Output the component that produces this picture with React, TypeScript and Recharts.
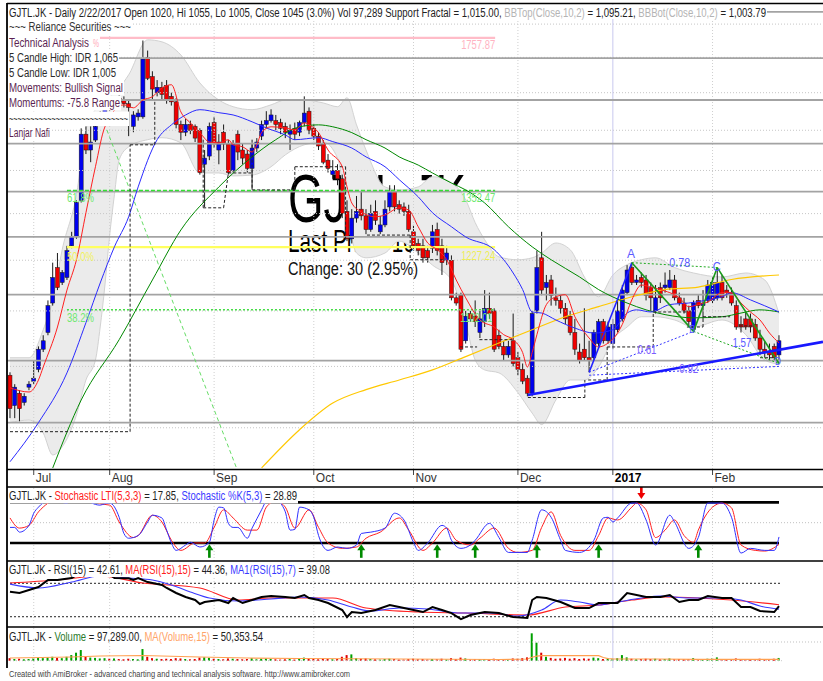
import React from 'react';
import { ComposedChart, Bar, Line, Area, XAxis, YAxis, ReferenceLine, Scatter } from 'recharts';

const FONT = '"Liberation Sans", Arial, sans-serif';

// ---- categories / ticks ----
const monthLabels = ['Jul', 'Aug', 'Sep', 'Oct', 'Nov', 'Dec', '2017', 'Feb'];
const monthStarts = [5, 21, 43, 64, 85, 107, 127, 148];

// ---- daily candles [open, high, low, close] ----
const ohlc = [
  [985, 990, 915, 930], [935, 970, 915, 965], [955, 960, 910, 930], [940, 955, 935, 950], [965, 975, 960, 970],
  [975, 1010, 970, 980], [995, 1035, 990, 1030], [1030, 1055, 1025, 1045], [1060, 1120, 1055, 1110], [1115, 1195, 1110, 1165],
  [1185, 1215, 1140, 1145], [1155, 1180, 1150, 1175], [1165, 1230, 1160, 1220], [1230, 1260, 1225, 1250], [1250, 1330, 1245, 1325],
  [1330, 1505, 1325, 1490], [1490, 1510, 1440, 1450], [1450, 1510, 1420, 1470], [1475, 1515, 1470, 1510], [1520, 1550, 1515, 1545],
  [1545, 1575, 1540, 1570], [1570, 1590, 1550, 1560], [1560, 1590, 1555, 1585], [1585, 1600, 1565, 1575], [1580, 1590, 1560, 1570],
  [1570, 1580, 1485, 1560], [1510, 1550, 1495, 1540], [1535, 1555, 1525, 1545], [1535, 1750, 1530, 1695], [1700, 1720, 1635, 1640],
  [1645, 1660, 1580, 1610], [1600, 1635, 1590, 1615], [1615, 1630, 1580, 1595], [1620, 1635, 1570, 1580], [1590, 1600, 1565, 1575],
  [1575, 1585, 1505, 1515], [1515, 1525, 1475, 1495], [1495, 1530, 1485, 1515], [1515, 1525, 1490, 1500], [1510, 1515, 1470, 1480],
  [1500, 1505, 1390, 1395], [1415, 1450, 1315, 1430], [1435, 1520, 1425, 1510], [1520, 1535, 1455, 1465], [1450, 1490, 1415, 1470],
  [1495, 1515, 1450, 1465], [1465, 1475, 1390, 1395], [1400, 1475, 1395, 1465], [1490, 1500, 1425, 1445], [1450, 1465, 1415, 1430],
  [1440, 1450, 1395, 1405], [1405, 1465, 1355, 1455], [1455, 1480, 1445, 1470], [1485, 1525, 1475, 1515], [1515, 1550, 1505, 1525],
  [1525, 1555, 1520, 1540], [1525, 1540, 1500, 1515], [1520, 1530, 1490, 1505], [1510, 1520, 1480, 1495], [1490, 1515, 1450, 1500],
  [1505, 1520, 1475, 1490], [1495, 1525, 1485, 1520], [1520, 1590, 1510, 1545], [1550, 1560, 1490, 1500], [1505, 1515, 1475, 1485],
  [1485, 1495, 1450, 1460], [1465, 1475, 1415, 1420], [1425, 1440, 1395, 1405], [1390, 1425, 1380, 1400], [1400, 1415, 1365, 1380],
  [1380, 1390, 1290, 1300], [1305, 1330, 1240, 1245], [1245, 1310, 1235, 1290], [1290, 1340, 1280, 1305], [1310, 1350, 1285, 1295],
  [1295, 1310, 1255, 1265], [1265, 1320, 1260, 1300], [1305, 1330, 1275, 1285], [1260, 1295, 1255, 1275], [1275, 1330, 1270, 1310],
  [1315, 1365, 1305, 1350], [1350, 1365, 1305, 1315], [1320, 1330, 1300, 1310], [1315, 1325, 1295, 1305], [1305, 1320, 1260, 1265],
  [1260, 1275, 1220, 1230], [1235, 1245, 1210, 1220], [1230, 1245, 1195, 1205], [1220, 1230, 1195, 1205], [1225, 1275, 1215, 1260],
  [1265, 1280, 1210, 1220], [1230, 1245, 1170, 1195], [1200, 1230, 1190, 1215], [1200, 1210, 1120, 1125], [1125, 1135, 1110, 1115],
  [1130, 1135, 1025, 1030], [1045, 1100, 1040, 1090], [1095, 1100, 1080, 1085], [1090, 1120, 1070, 1080], [1060, 1100, 1050, 1085],
  [1080, 1140, 1070, 1105], [1105, 1135, 1085, 1095], [1100, 1105, 1025, 1030], [1055, 1065, 1030, 1035], [1035, 1045, 1010, 1020],
  [1020, 1045, 1015, 1035], [1045, 1095, 1000, 1005], [1015, 1025, 985, 995], [995, 1005, 970, 975], [980, 985, 950, 955],
  [955, 1100, 950, 1095], [1100, 1220, 1095, 1185], [1205, 1260, 1130, 1140], [1145, 1170, 1120, 1155], [1160, 1170, 1110, 1130],
  [1125, 1145, 1110, 1120], [1120, 1130, 1095, 1105], [1105, 1115, 1075, 1085], [1090, 1100, 1055, 1060], [1060, 1085, 1020, 1030],
  [1025, 1040, 1005, 1010], [1030, 1105, 1010, 1015], [1015, 1045, 990, 1010], [1015, 1065, 1010, 1060], [1040, 1085, 1035, 1080],
  [1080, 1085, 1040, 1045], [1045, 1080, 1040, 1070], [1040, 1085, 1030, 1075], [1065, 1120, 1060, 1100], [1085, 1150, 1080, 1140],
  [1135, 1190, 1130, 1180], [1185, 1195, 1150, 1155], [1155, 1170, 1150, 1160], [1165, 1175, 1145, 1155], [1160, 1170, 1120, 1130],
  [1145, 1155, 1100, 1125], [1100, 1150, 1095, 1125], [1145, 1155, 1115, 1125], [1145, 1175, 1135, 1150], [1145, 1180, 1140, 1160],
  [1160, 1170, 1120, 1125], [1125, 1135, 1110, 1115], [1115, 1125, 1095, 1100], [1100, 1110, 1070, 1080], [1065, 1120, 1060, 1115],
  [1120, 1130, 1105, 1110], [1110, 1140, 1085, 1115], [1120, 1160, 1115, 1150], [1120, 1165, 1115, 1155], [1125, 1185, 1120, 1155],
  [1155, 1170, 1120, 1125], [1140, 1150, 1125, 1135], [1135, 1145, 1110, 1115], [1110, 1120, 1065, 1070], [1075, 1090, 1060, 1070],
  [1085, 1100, 1065, 1070], [1085, 1095, 1060, 1070], [1075, 1085, 1045, 1050], [1050, 1065, 1020, 1030], [1030, 1045, 1015, 1025],
  [1025, 1040, 1010, 1020], [1035, 1040, 1010, 1015], [1020, 1055, 1005, 1045],
];

// ---- volume (thousands of shares) ----
const volumeK = [
  90, 60, 70, 50, 60, 80, 110, 90, 120, 140,
  100, 90, 140, 200, 285, 380, 150, 110, 100, 80,
  90, 70, 80, 60, 50, 70, 60, 50, 415, 140,
  90, 70, 60, 70, 60, 90, 80, 60, 50, 60,
  110, 120, 100, 70, 60, 50, 80, 70, 60, 50,
  60, 90, 50, 70, 80, 60, 50, 40, 50, 60,
  40, 70, 110, 80, 60, 50, 70, 60, 50, 60,
  140, 200, 225, 90, 70, 80, 60, 50, 40, 60,
  70, 60, 40, 40, 60, 70, 50, 60, 40, 60,
  50, 70, 40, 90, 60, 110, 80, 40, 50, 50,
  60, 40, 70, 40, 50, 40, 80, 70, 90, 118,
  975, 641, 285, 140, 100, 70, 80, 100, 70, 90,
  60, 80, 70, 110, 90, 60, 80, 70, 90, 200,
  118, 70, 50, 60, 70, 60, 70, 50, 60, 80,
  50, 60, 50, 60, 90, 50, 60, 70, 80, 118,
  60, 50, 60, 80, 50, 60, 50, 60, 70, 50,
  60, 70, 97.289,
];

// ---- price overlays [bar, price] ----
const maRed = [[0,964],[4,957],[6,977],[7,999],[10,1070],[12,1140],[14,1201],[16,1302],[18,1409],[20,1509],[24,1567],[26,1559],[28,1580],[30,1589],[32,1613],[34,1622],[36,1548],[38,1519],[40,1494],[42,1470],[44,1468],[46,1476],[47,1463],[49,1458],[51,1445],[52,1463],[53,1494],[55,1509],[58,1506],[60,1501],[62,1519],[63,1514],[65,1494],[67,1450],[70,1409],[71,1361],[72,1324],[74,1304],[77,1293],[79,1297],[82,1313],[84,1308],[86,1271],[88,1236],[90,1222],[92,1201],[94,1160],[96,1125],[99,1083],[102,1070],[104,1056],[106,1047],[108,1024],[109,999],[110,1024],[111,1056],[113,1112],[115,1127],[117,1131],[119,1089],[122,1050],[124,1034],[126,1041],[128,1059],[129,1075],[131,1121],[133,1150],[135,1146],[137,1141],[141,1125],[143,1108],[145,1112],[147,1117],[150,1135],[152,1135],[154,1115],[156,1098],[158,1083],[160,1059],[162,1041]];
const maBlue = [[0,849],[6,908],[12,989],[16,1078],[19,1154],[22,1228],[25,1293],[27,1361],[31,1476],[34,1514],[37,1540],[40,1554],[44,1546],[47,1540],[51,1522],[54,1506],[58,1488],[60,1476],[65,1481],[68,1471],[72,1455],[75,1433],[79,1409],[82,1378],[86,1338],[89,1302],[93,1271],[96,1249],[102,1222],[106,1174],[108,1141],[110,1098],[112,1096],[115,1083],[119,1068],[123,1059],[127,1065],[130,1096],[132,1102],[135,1098],[139,1112],[143,1115],[147,1121],[150,1127],[152,1135],[156,1121],[162,1098]];
const maGreen = [[9,840],[15,944],[23,1047],[30,1160],[36,1264],[44,1361],[51,1433],[56,1476],[61,1509],[65,1514],[68,1509],[72,1494],[75,1476],[79,1455],[82,1433],[86,1413],[89,1394],[93,1370],[96,1354],[100,1324],[105,1271],[110,1228],[114,1201],[120,1166],[124,1141],[130,1115],[134,1102],[138,1093],[144,1087],[150,1089],[154,1096],[158,1102],[162,1098]];
const maYellow = [[53,840],[61,897],[68,939],[75,961],[82,977],[89,994],[96,1017],[103,1041],[110,1065],[117,1089],[124,1108],[131,1127],[138,1141],[145,1146],[152,1161],[162,1170]];
// Bollinger band [bar, bottom, top]
const bbands = [[0,908,1015],[4,912,1015],[7,892,1065],[9,859,1121],[11,871,1222],[14,920,1343],[16,977,1501],[18,1011,1554],[19,1070,1567],[20,1150,1580],[21,1253,1589],[22,1343,1599],[23,1426,1613],[25,1458,1650],[29,1476,1752],[32,1481,1746],[36,1468,1707],[40,1394,1627],[44,1394,1580],[47,1387,1562],[51,1389,1554],[55,1409,1567],[58,1438,1580],[62,1463,1580],[66,1470,1572],[69,1430,1562],[71,1300,1586],[73,1215,1514],[75,1205,1450],[79,1215,1361],[82,1240,1354],[86,1215,1361],[89,1190,1385],[93,1160,1371],[96,1078,1331],[98,1011,1280],[100,994,1243],[103,989,1207],[107,956,1201],[110,923,1205],[112,905,1215],[115,944,1236],[118,977,1222],[121,977,1166],[124,999,1127],[127,1047,1170],[130,1070,1191],[133,1089,1201],[136,1089,1205],[140,1083,1185],[144,1070,1174],[150,1083,1166],[155,1056,1174],[159,1011,1160],[162,1004,1095]];

// horizontal levels (price)
const gridPrices = [900, 1000, 1100, 1200, 1300, 1400, 1500, 1600, 1700, 1800];
const levelPrices = [1838, 1698, 1580, 1466, 1350, 1249, 1131, 1010, 908];

// fibonacci [fromBar, toBar, price]
const fibHigh = [12, 102.2, 1757.87];
const fib618 = [12, 102.2, 1352.47];
const fib500 = [12, 102.2, 1227.24];
const fib382 = [12, 102.2, 1102.01];
const fibFan = [20.4, 1501, 47.8, 838.5];

// fractal boxes [bar1, price1, bar2, price2]
const fractalSegs = [
  [0,894,25.3,894],[25.3,894,25.3,1463],[25.3,1463,30.5,1463],[30.5,1463,30.5,1580],
  [40.7,1476,40.7,1313],[40.7,1313,45,1313],[45,1313,46,1394],[46,1394,50.8,1394],
  [51,1476,51,1354],[51,1354,60,1354],[60,1354,60,1409],[60,1409,70.7,1409],[70.7,1409,70.7,1243],
  [75.2,1253,84.3,1253],[84.3,1253,84.3,1201],[84.3,1201,91.2,1201],
  [94.8,1034,98.4,1034],[98.9,1047,106,1047],
  [109.1,948,121.1,948],[121.1,948,121.1,977],[121.8,977,125.8,977],[125.8,977,125.8,1034],[125.8,1034,135.5,1034],
  [135.5,1034,135.5,1098],[135.5,1098,142.6,1098],[142.6,1070,146,1070],[146,1070,146,1089],[146,1089,151.7,1089],
  [153.6,1072,156.7,1072],[158,1015,161.6,1015],
];

// support trendline and harmonic pattern X-A-B-C-D
const trendLine = [109.1, 952, 171.27, 1043];
const patX = [122, 990], patA = [131, 1195], patB = [144, 1062], patC = [149, 1185], patD = [162, 1005];

// chart labels [bar, price, text, color, anchor, size, length]
const priceLabels: any[] = [
  [12, 1335, '61.8%', '#6fe86f', 'start', 12, 27],
  [12, 1207, '50.0%', '#f2f25a', 'start', 12, 27],
  [12, 1087, '38.2%', '#6fe86f', 'start', 12, 27],
  [102.2, 1737, '1757.87', '#ffb3c2', 'end', 12, 34],
  [102.2, 1335, '1352.47', '#6fe86f', 'end', 12, 34],
  [102.2, 1209, '1227.24', '#eeee55', 'end', 12, 34],
  [101.6, 1087, '1102.01', '#6fe86f', 'end', 12, 32],
  [130.8, 1215, 'A', '#5a5aff', 'middle', 13, 8],
  [148.9, 1187, 'C', '#5a5aff', 'middle', 13, 8],
  [141.1, 1195, '0.78', '#5a5aff', 'middle', 13, 21],
  [134.2, 1029, '0.61', '#7b5cff', 'middle', 13, 19],
  [154.2, 1043, '1.57', '#5a5aff', 'middle', 13, 19],
  [143.0, 997, '0.92', '#7b5cff', 'middle', 13, 19],
  [143.7, 1065, 'B', '#5a5aff', 'middle', 10, 6],
  [161.8, 1008, 'D', '#5a5aff', 'middle', 10, 6],
];

// ---- stochastic ----
const stochK = [[0,43],[1,43],[2,36],[4,46],[5,64],[6,73],[7,80],[8,88],[10,90],[11,80],[12,79],[13,85],[15,90],[17,80],[18,77],[19,76],[20,78],[21,79],[23,58],[24,34],[25,27],[27,31],[29,51],[30,61],[32,57],[33,39],[34,20],[35,9],[37,17],[38,21],[40,14],[42,21],[43,54],[44,73],[45,72],[46,49],[47,43],[48,43],[50,27],[51,42],[53,69],[54,83],[55,90],[56,88],[57,79],[58,66],[59,39],[60,40],[61,73],[63,69],[64,58],[65,31],[67,9],[69,14],[71,12],[73,17],[74,34],[76,36],[79,42],[81,64],[83,54],[85,21],[86,9],[88,20],[91,46],[92,42],[93,24],[95,12],[97,17],[98,24],[101,49],[103,28],[105,6],[109,6],[110,24],[112,69],[114,58],[116,24],[117,9],[120,6],[123,24],[125,57],[126,58],[127,51],[128,57],[131,79],[132,79],[134,54],[136,17],[139,61],[140,51],[143,12],[145,28],[147,79],[150,79],[152,58],[154,5],[156,12],[159,9],[161,9],[162,28.89]];
const stochD = [[0,57],[2,42],[4,46],[6,66],[8,79],[10,88],[13,85],[16,88],[19,78],[21,76],[23,51],[26,28],[27,31],[30,61],[32,51],[34,24],[36,9],[39,20],[41,20],[43,43],[45,69],[47,57],[50,39],[52,39],[54,73],[56,82],[58,73],[60,42],[63,69],[65,43],[67,20],[70,12],[73,14],[75,27],[78,36],[82,57],[84,39],[87,9],[89,20],[92,42],[94,24],[97,17],[99,27],[102,42],[105,12],[107,6],[110,9],[112,43],[114,66],[116,31],[119,9],[122,9],[124,31],[126,57],[128,54],[131,73],[132,79],[134,69],[136,28],[138,39],[140,54],[142,31],[144,21],[145,39],[148,73],[150,79],[152,72],[154,17],[157,9],[159,8],[162,17.85]];
const buySignals = [42, 74, 90, 98, 111, 124, 145];
const sellSignals = [133];

// ---- RSI ----
const rsi = [[0,60],[2,58.4],[4,62],[6,65.6],[8,74],[10,74],[13,76.3],[15,83],[18,87],[20,85],[22,76.3],[25,76],[26,74],[27,76.3],[29,71.5],[32,68],[33,64.4],[35,58.4],[37,53.6],[39,50],[40,45.2],[41,47.6],[44,50],[46,46.4],[47,52.4],[49,46.4],[51,50],[53,53.6],[55,54.8],[58,53.6],[60,52.4],[62,56],[63,52.4],[65,50],[67,46.4],[70,38],[71,29.6],[72,35.6],[74,34.4],[77,38],[80,44],[82,41.6],[85,38],[87,35.6],[89,41.6],[91,38],[93,34.4],[95,27.2],[97,32],[100,35.6],[103,34.4],[106,29.6],[109,28.4],[110,50],[111,53.6],[113,52.4],[116,47.6],[119,40.4],[122,40.4],[124,46.4],[126,46.4],[128,46.4],[130,58.4],[132,56],[134,53.6],[137,53.6],[139,56],[141,47.6],[143,50],[145,50],[147,54.8],[150,52.4],[152,52.4],[154,41.6],[156,41.6],[158,36.8],[161,35.6],[162,42.61]];
const rsiMa15 = [[0,70.4],[10,74],[19,78.7],[28,70.4],[40,64.4],[48,50],[55,52.4],[68,52.4],[75,40.4],[86,35.6],[96,34.4],[109,32],[117,41.6],[124,44],[131,50],[138,53.6],[145,52.4],[152,50],[162,44.36]];
const rsiMa7 = [[0,69],[6,64.4],[13,71.5],[19,78.7],[25,76.3],[30,74],[34,68],[38,59.6],[42,52.4],[48,48.8],[55,51.2],[61,53.6],[67,50],[72,41.6],[76,36.8],[82,40.4],[88,39.2],[95,34.4],[101,34.4],[107,30.8],[112,38],[116,50],[120,47.6],[124,44],[128,47.6],[133,52.4],[137,54.8],[143,52.4],[150,52.4],[154,50],[158,42.8],[162,39.08]];

// ---- volume MA (thousands) ----
const volMa = [[0,96],[13,132],[19,167],[28,185],[40,132],[50,96],[61,78],[82,61],[103,43],[109,61],[110,122],[111,165],[112,180],[124,178],[125,115],[126,75],[127,68],[135,61],[145,50],[162,50.35]];

// ---------------------------------------------------------------
const W = 823;
const xDomain: [number, number] = [-0.632, 171.27];
const pts = (a: number[][]) => a.map(([i, v]) => ({ i, v }));
const seg = (a: number[]) => [{ i: a[0], v: a[1] }, { i: a[2], v: a[3] }];

const candleData = ohlc.map(([o, h, l, c], i) => ({ i, o, h, l, c, vol: volumeK[i], up: c >= o }));
const bandData = bbands.map(([i, lo, hi]) => ({ i, r: [lo, hi] }));
const labelData = priceLabels.map(([i, v, text, color, anchor, size, len]) => ({ i, v, text, color, anchor, size, len }));

const BODY_W = 4;

const CandleShape = (p: any) => {
  const { x, y, width, height, payload } = p;
  if (!payload || y == null || height == null) return null;
  const top = Math.min(y, y + height);
  const bot = Math.max(y, y + height);
  const lh = Math.log(payload.h), ll = Math.log(payload.l);
  const py = (v: number) => (lh === ll ? top : top + ((bot - top) * (lh - Math.log(v))) / (lh - ll));
  const y1 = py(Math.max(payload.o, payload.c));
  const y2 = py(Math.min(payload.o, payload.c));
  const cx = x + width / 2;
  return (
    <g>
      <line x1={cx} x2={cx} y1={top} y2={bot} stroke="#1a1a1a" strokeWidth={1} />
      <rect x={cx - BODY_W / 2} y={y1} width={BODY_W} height={Math.max(1, y2 - y1)} fill={payload.up ? '#0000f0' : '#f00000'} stroke="#1a1a1a" strokeWidth={0.5} />
    </g>
  );
};

const VolShape = (p: any) => {
  const { x, y, width, height, payload } = p;
  if (!payload || y == null) return null;
  const top = Math.min(y, y + height);
  const cx = x + width / 2;
  return <rect x={cx - 1} y={top} width={2} height={Math.abs(height)} fill={payload.up ? '#00a000' : '#e00000'} />;
};

const LabelShape = (p: any) => {
  const { cx, cy, payload } = p;
  if (cx == null) return null;
  return (
    <text x={cx} y={cy} dy="0.36em" textAnchor={payload.anchor} fontSize={payload.size} fontFamily={FONT} fill={payload.color} textLength={payload.len} lengthAdjust="spacingAndGlyphs">
      {payload.text}
    </text>
  );
};

const UpArrow = (p: any) => {
  const { cx, cy } = p;
  if (cx == null) return null;
  return (
    <g>
      <polygon points={`${cx},${cy} ${cx - 4},${cy + 6} ${cx + 4},${cy + 6}`} fill="#008a00" />
      <rect x={cx - 1.3} y={cy + 5} width={2.6} height={8.5} fill="#008a00" />
    </g>
  );
};

const DownArrow = (p: any) => {
  const { cx, cy } = p;
  if (cx == null) return null;
  return (
    <g>
      <polygon points={`${cx},${cy} ${cx - 4},${cy - 6} ${cx + 4},${cy - 6}`} fill="#ee0000" />
      <rect x={cx - 1.3} y={cy - 12.5} width={2.6} height={7.5} fill="#ee0000" />
    </g>
  );
};

const MonthTick = (p: any) => {
  const { x, y, payload } = p;
  const k = monthStarts.indexOf(payload.value);
  const lab = monthLabels[k] ?? '';
  const bold = lab === '2017';
  return (
    <g>
      <line x1={x} y1={y} x2={x} y2={y + 6} stroke="#444" strokeWidth={1} />
      <text x={x + 2} y={y + 12.5} fontSize={12} fontFamily={FONT} fill={bold ? '#000' : '#333'} fontWeight={bold ? 'bold' : 'normal'}>
        {lab}
      </text>
    </g>
  );
};

const monthLines = (key: string) =>
  monthStarts.map((m, k) => (
    <ReferenceLine
      key={key + k}
      x={m}
      stroke={monthLabels[k] === '2017' ? '#c9c9ee' : '#cfcfcf'}
      strokeDasharray={monthLabels[k] === '2017' ? undefined : '1 2'}
      strokeWidth={1}
    />
  ));

const segLine = (key: string, a: number[], stroke: string, width: number, dash?: string) => (
  <Line key={key} data={seg(a)} dataKey="v" type="linear" stroke={stroke} strokeWidth={width} strokeDasharray={dash} dot={false} activeDot={false} isAnimationActive={false} />
);

const MainPane = () => (
  <ComposedChart width={W} height={487} data={candleData} margin={{ top: 4, right: 0, bottom: 0, left: 7 }}>
    <XAxis dataKey="i" type="number" domain={xDomain} allowDataOverflow ticks={monthStarts} interval={0} tick={<MonthTick />} tickLine={false} axisLine={false} tickSize={0} tickMargin={0} height={18} />
    <YAxis dataKey="v" scale="log" domain={[838.5, 1863.2]} allowDataOverflow hide />
    {gridPrices.map((g) => <ReferenceLine key={'g' + g} y={g} stroke="#c6c6c6" strokeDasharray="1 2" />)}
    {monthLines('mm')}
    <Area data={bandData} dataKey="r" type="monotone" fill="#ebebeb" fillOpacity={1} stroke="#d2d2d2" strokeWidth={1} isAnimationActive={false} dot={false} activeDot={false} />
    {levelPrices.map((g) => <ReferenceLine key={'l' + g} y={g} stroke="#a3a3a3" strokeWidth={1.8} />)}
    {segLine('fh', [fibHigh[0], fibHigh[2], fibHigh[1], fibHigh[2]], '#ffbcc8', 2.2)}
    {segLine('f6', [fib618[0], fib618[2], fib618[1], fib618[2]], '#33e033', 1.5, '4 2')}
    {segLine('f5', [fib500[0], fib500[2], fib500[1], fib500[2]], '#ffff5e', 2.4)}
    {segLine('f3', [fib382[0], fib382[2], fib382[1], fib382[2]], '#44dd44', 1.5, '2 2')}
    {segLine('ff', fibFan, '#66dd66', 1, '4 3')}
    <Line data={pts(maYellow)} dataKey="v" type="monotone" stroke="#ffc800" strokeWidth={1.2} dot={false} activeDot={false} isAnimationActive={false} />
    <Line data={pts(maGreen)} dataKey="v" type="monotone" stroke="#008800" strokeWidth={1} dot={false} activeDot={false} isAnimationActive={false} />
    <Line data={pts(maBlue)} dataKey="v" type="monotone" stroke="#2a2aff" strokeWidth={1} dot={false} activeDot={false} isAnimationActive={false} />
    {fractalSegs.map((s, k) => segLine('fr' + k, s, '#222', 1, '3 2'))}
    <Bar dataKey={(d: any) => [d.l, d.h]} barSize={4} shape={CandleShape} isAnimationActive={false} />
    <Line data={pts(maRed)} dataKey="v" type="monotone" stroke="#ff2020" strokeWidth={1} dot={false} activeDot={false} isAnimationActive={false} />
    {segLine('xa', [...patX, ...patA], '#2020ff', 1.6)}
    {segLine('ab', [...patA, ...patB], '#1a9a1a', 1.6)}
    {segLine('bc', [...patB, ...patC], '#1a9a1a', 1.6)}
    {segLine('cd', [...patC, ...patD], '#1a9a1a', 1.6)}
    {segLine('xb', [...patX, ...patB], '#3535ff', 1, '2 2')}
    {segLine('ac', [...patA, ...patC], '#22aa22', 1, '2 2')}
    {segLine('bd', [...patB, ...patD], '#22aa22', 1, '2 2')}
    {segLine('xd', [patX[0], 985, patD[0], 1000], '#3535ff', 1, '2 2')}
    {segLine('tr', trendLine, '#1818ff', 2.6)}
    <Scatter data={labelData} dataKey="v" shape={LabelShape} isAnimationActive={false} />
  </ComposedChart>
);

const StochPane = () => (
  <ComposedChart width={W} height={74} margin={{ top: 0, right: 0, bottom: 0, left: 7 }}>
    <XAxis dataKey="i" type="number" domain={xDomain} allowDataOverflow hide />
    <YAxis dataKey="v" type="number" domain={[-6.7, 102.8]} allowDataOverflow hide />
    {monthLines('sm')}
    <ReferenceLine y={50} stroke="#c0c0c0" strokeDasharray="1 2" />
    {segLine('s80', [0, 80, 162, 80], '#000', 2.6)}
    {segLine('s20', [0, 20, 162, 20], '#000', 2.6)}
    <Line data={pts(stochD)} dataKey="v" type="monotone" stroke="#ff2020" strokeWidth={1} dot={false} activeDot={false} isAnimationActive={false} />
    <Line data={pts(stochK)} dataKey="v" type="monotone" stroke="#3030ff" strokeWidth={1} dot={false} activeDot={false} isAnimationActive={false} />
    <Scatter data={buySignals.map((i) => ({ i, v: 18 }))} dataKey="v" shape={UpArrow} isAnimationActive={false} />
    <Scatter data={sellSignals.map((i) => ({ i, v: 85 }))} dataKey="v" shape={DownArrow} isAnimationActive={false} />
  </ComposedChart>
);

const RsiPane = () => (
  <ComposedChart width={W} height={66} margin={{ top: 0, right: 0, bottom: 0, left: 7 }}>
    <XAxis dataKey="i" type="number" domain={xDomain} allowDataOverflow hide />
    <YAxis dataKey="v" type="number" domain={[17.7, 96.7]} allowDataOverflow hide />
    {monthLines('rm')}
    {segLine('r70', [0, 70, 162.6, 70], '#222', 1, '2 2')}
    {segLine('r30', [0, 30, 162.6, 30], '#222', 1, '2 2')}
    <Line data={pts(rsiMa15)} dataKey="v" type="monotone" stroke="#ff2020" strokeWidth={1.1} dot={false} activeDot={false} isAnimationActive={false} />
    <Line data={pts(rsiMa7)} dataKey="v" type="monotone" stroke="#3a3aff" strokeWidth={1.1} dot={false} activeDot={false} isAnimationActive={false} />
    <Line data={pts(rsi)} dataKey="v" type="linear" stroke="#000" strokeWidth={2} dot={false} activeDot={false} isAnimationActive={false} />
  </ComposedChart>
);

const VolPane = () => (
  <ComposedChart width={W} height={41} data={candleData} margin={{ top: 0, right: 0, bottom: 0, left: 7 }}>
    <XAxis dataKey="i" type="number" domain={xDomain} allowDataOverflow hide />
    <YAxis dataKey="v" type="number" domain={[-260, 1200]} allowDataOverflow hide />
    {monthLines('vm')}
    <ReferenceLine y={666} stroke="#c0c0c0" strokeDasharray="1 2" />
    {segLine('v0', [0, 0, 162.6, 0], '#c0c0c0', 1, '1 2')}
    <Bar dataKey={(d: any) => [0, d.vol]} barSize={2} shape={VolShape} isAnimationActive={false} />
    <Line data={pts(volMa)} dataKey="v" type="linear" stroke="#ffa050" strokeWidth={1.2} dot={false} activeDot={false} isAnimationActive={false} />
  </ComposedChart>
);

const infoRows = [
  { t: '~~~ Reliance Securities ~~~', y: 30.5, len: 122, c: '#333', bg: 124 },
  { t: 'Technical Analysis', y: 47, len: 80, c: '#5c1f52', bg: 92 },
  { t: '5 Candle High: IDR 1,065', y: 62, len: 109, c: '#2a2a2a', bg: 111 },
  { t: '5 Candle Low: IDR 1,005', y: 77, len: 107, c: '#2a2a2a', bg: 109 },
  { t: 'Movements: Bullish Signal', y: 92, len: 114, c: '#5c1f52', bg: 116 },
  { t: 'Momentums: -75.8 Range', y: 107, len: 111, c: '#5c1f52', bg: 113 },
  { t: '~~~~~~~~~~~~~~~~~~~~~~~~~~~~', y: 122.5, len: 119, c: '#333', bg: 121 },
  { t: 'Lanjar Nafi', y: 137, len: 41, c: '#5c1f52', bg: 43 },
];

const txt = (x: number, y: number, len: number, size: number, children: any, fill = '#222', extra: any = {}) => (
  <text x={x} y={y} fontSize={size} fontFamily={FONT} fill={fill} textLength={len} lengthAdjust="spacingAndGlyphs" {...extra}>
    {children}
  </text>
);

export default function App() {
  const abs = (top: number, z: number): React.CSSProperties => ({ position: 'absolute', left: 0, top, zIndex: z });
  return (
    <div style={{ position: 'absolute', left: 0, top: 0, width: W, height: 681, background: '#fff', overflow: 'hidden' }}>
      <svg width={W} height={681} style={abs(0, 0)}>
        {txt(288, 222, 178, 68, 'GJTL.JK', '#000')}
        {txt(288, 252, 150, 31, 'Last Price: 1045', '#000')}
        {txt(288, 275, 130, 18, 'Change: 30 (2.95%)', '#111')}
      </svg>
      <div style={abs(0, 1)}><MainPane /></div>
      <div style={abs(487, 1)}><StochPane /></div>
      <div style={abs(561, 1)}><RsiPane /></div>
      <div style={abs(627, 1)}><VolPane /></div>
      <svg width={W} height={681} style={{ ...abs(0, 2), pointerEvents: 'none' }}>
        {/* title row */}
        <rect x={8} y={5} width={759} height={14} fill="#fff" />
        <text x={9} y={16.5} fontSize={12.5} fontFamily={FONT} fill="#222" textLength={757} lengthAdjust="spacingAndGlyphs">
          <tspan>GJTL.JK - Daily 2/22/2017 Open 1020, Hi 1055, Lo 1005, Close 1045 (3.0%) Vol 97,289 Support Fractal = 1,015.00, </tspan>
          <tspan fill="#b4b4b4">BBTop(Close,10,2)</tspan>
          <tspan> = 1,095.21, </tspan>
          <tspan fill="#b4b4b4">BBBot(Close,10,2)</tspan>
          <tspan> = 1,003.79</tspan>
        </text>
        {infoRows.map((r, k) => (
          <g key={'ir' + k}>
            <rect x={8} y={r.y - 11} width={r.bg} height={14.5} fill="#fff" />
            {txt(9, r.y, r.len, 12.5, r.t, r.c)}
          </g>
        ))}
        {txt(93, 47, 6, 11, '%', '#ffa8b8')}

        {/* frame */}
        <line x1={7} y1={3.5} x2={W} y2={3.5} stroke="#000" strokeWidth={1.5} />
        <line x1={7} y1={3} x2={7} y2={668} stroke="#000" strokeWidth={1.8} />
        <line x1={7} y1={469.5} x2={W} y2={469.5} stroke="#000" strokeWidth={1.3} />
        <line x1={7} y1={487} x2={W} y2={487} stroke="#000" strokeWidth={1.3} />
        <line x1={7} y1={561} x2={W} y2={561} stroke="#000" strokeWidth={1.3} />
        <line x1={7} y1={627} x2={W} y2={627} stroke="#000" strokeWidth={1.3} />

        {/* stochastic title */}
        <rect x={8} y={489} width={290} height={14.5} fill="#fff" />
        <text x={9} y={500} fontSize={12.5} fontFamily={FONT} fill="#222" textLength={288} lengthAdjust="spacingAndGlyphs">
          <tspan>GJTL.JK - </tspan>
          <tspan fill="#ff2020">Stochastic LTI(5,3,3)</tspan>
          <tspan> = 17.85, </tspan>
          <tspan fill="#3a3aff">Stochastic %K(5,3)</tspan>
          <tspan> = 28.89</tspan>
        </text>

        {/* RSI title */}
        <rect x={8} y={563} width={323} height={14} fill="#fff" />
        <text x={9} y={574} fontSize={12.5} fontFamily={FONT} fill="#222" textLength={321} lengthAdjust="spacingAndGlyphs">
          <tspan>GJTL.JK - RSI(15) = 42.61, </tspan>
          <tspan fill="#ff2020">MA(RSI(15),15)</tspan>
          <tspan> = 44.36, </tspan>
          <tspan fill="#3a3aff">MA1(RSI(15),7)</tspan>
          <tspan> = 39.08</tspan>
        </text>

        {/* volume title */}
        <rect x={8} y={629.5} width={256} height={14} fill="#fff" />
        <text x={9} y={641} fontSize={12.5} fontFamily={FONT} fill="#222" textLength={254} lengthAdjust="spacingAndGlyphs">
          <tspan>GJTL.JK - </tspan>
          <tspan fill="#2a7a2a">Volume</tspan>
          <tspan> = 97,289.00, </tspan>
          <tspan fill="#ffa468">MA(Volume,15)</tspan>
          <tspan> = 50,353.54</tspan>
        </text>

        {/* footer */}
        {txt(9, 677, 341, 9.5, 'Created with AmiBroker - advanced charting and technical analysis software. http://www.amibroker.com', '#444')}
      </svg>
    </div>
  );
}
